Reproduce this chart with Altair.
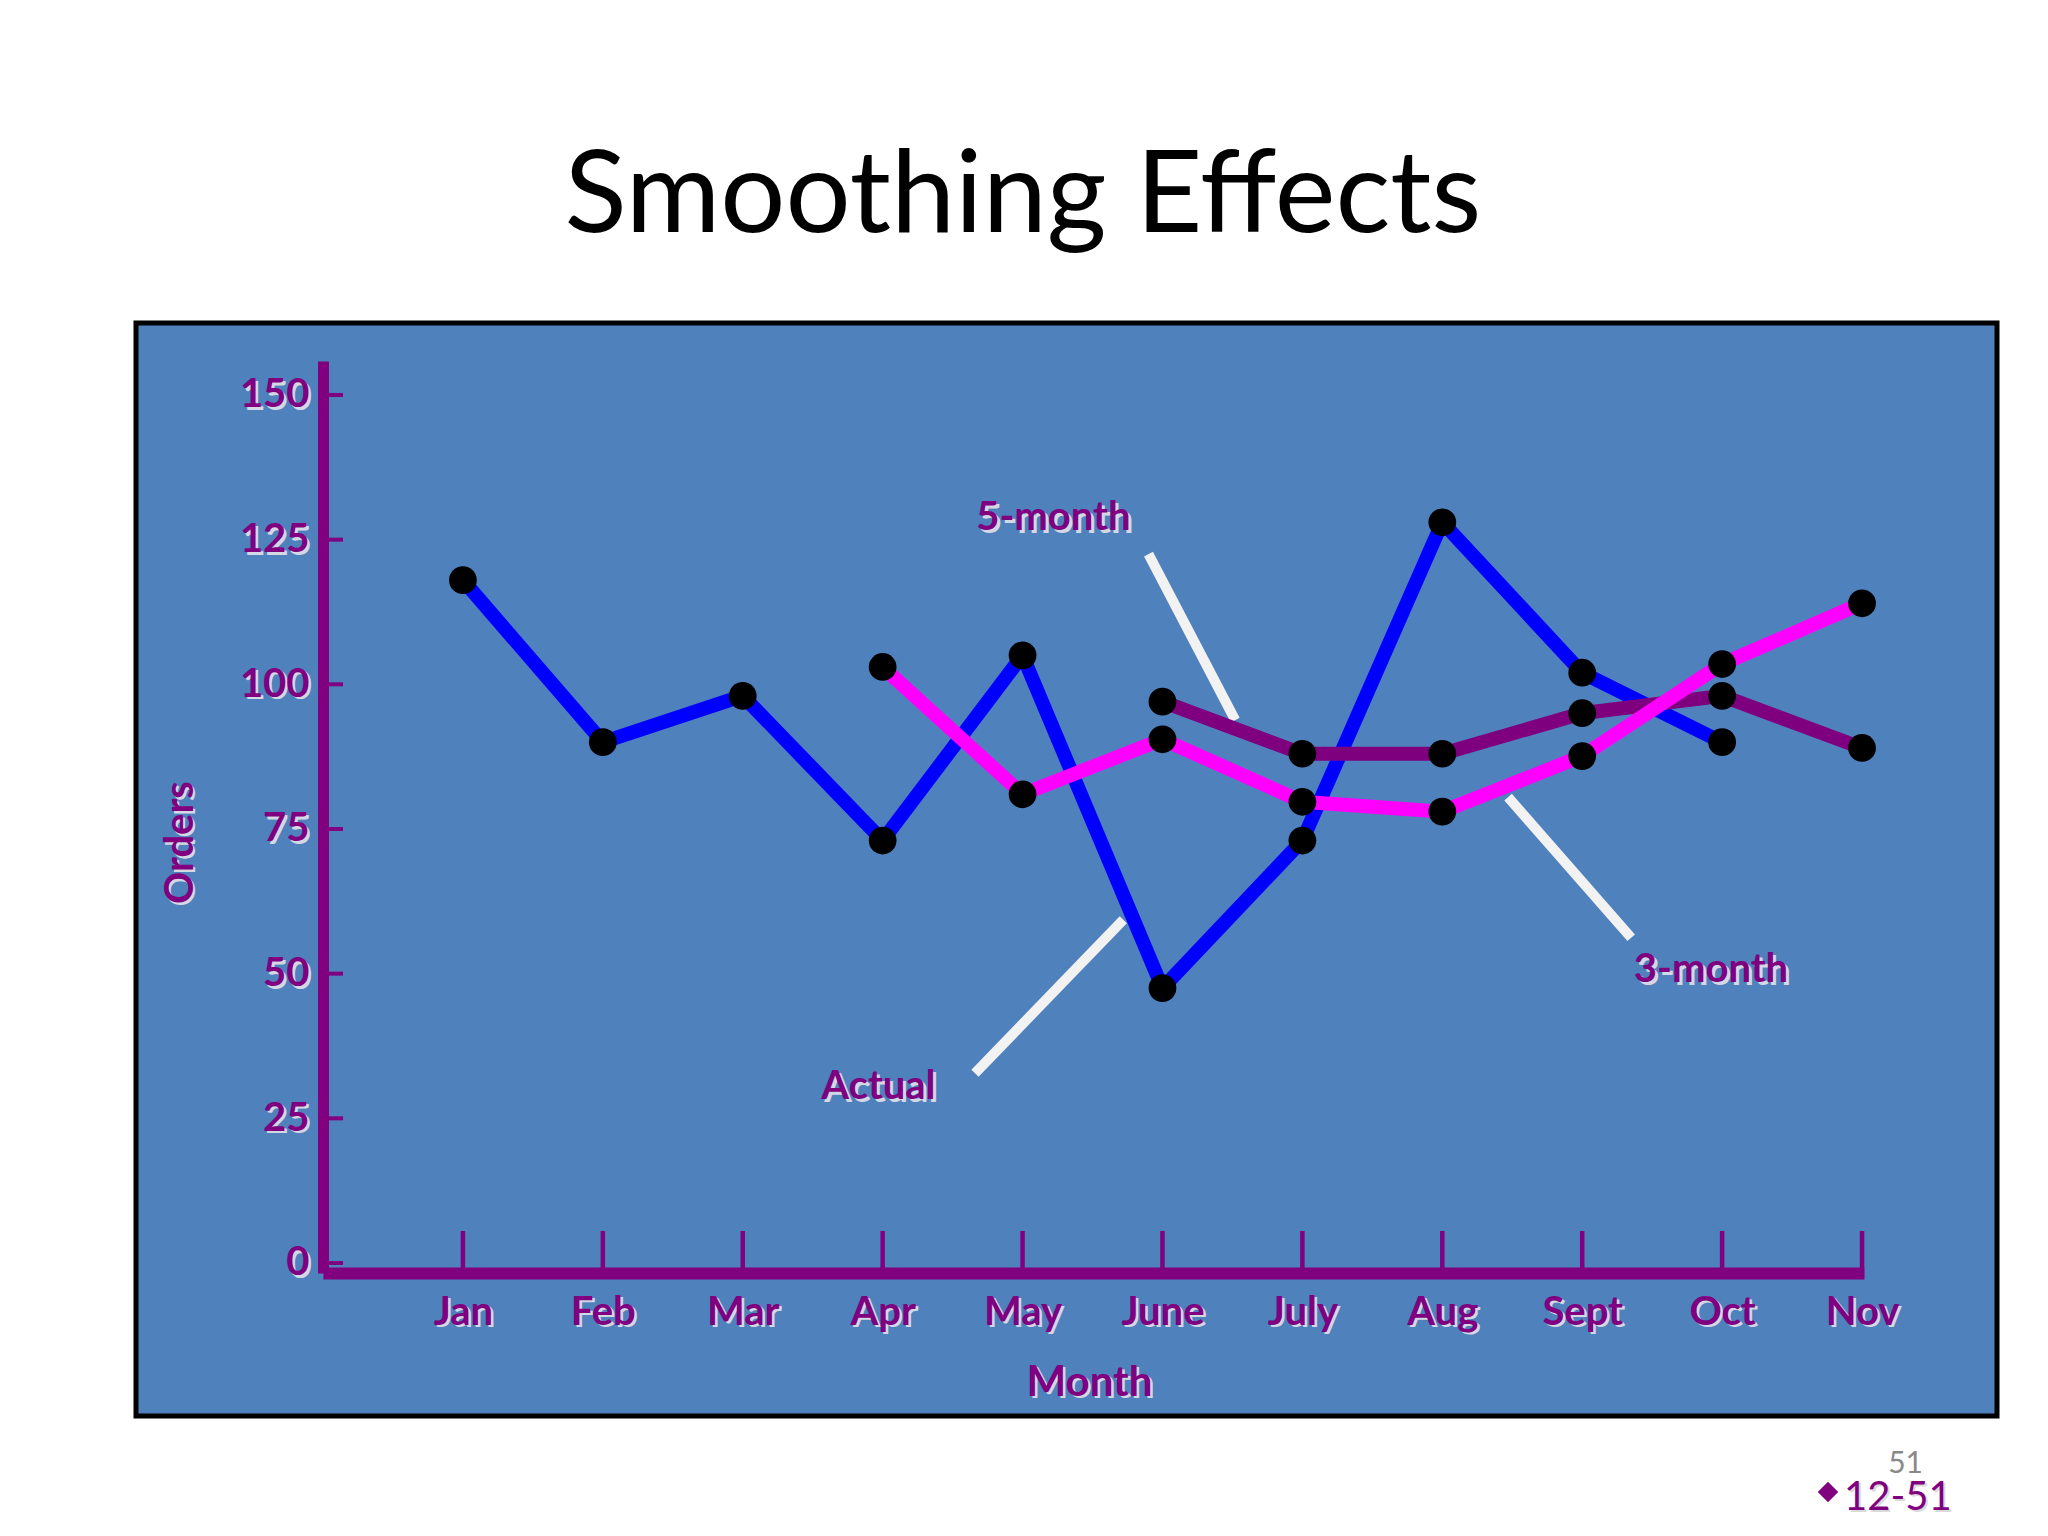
import json
import altair as alt
import pandas as pd

# ---------------- data ----------------
months = ["Jan", "Feb", "Mar", "Apr", "May", "June", "July", "Aug", "Sept", "Oct", "Nov"]

actual_months = months[:10]
actual = [118, 90, 98, 73, 105, 47.5, 73, 128, 102, 90]

three_months = months[3:]
three_month = [103, 81, 90.5, 79.7, 78, 87.6, 103.5, 114]

five_months = months[5:]
five_month = [97, 88, 88, 95, 98, 89]

y_tick_values = [0, 25, 50, 75, 100, 125, 150]

# annotation labels and pointer lines (in data coordinates: month index, orders)
note_text = ["5-month", "Actual", "3-month"]
note_x = [4.22, 2.97, 8.92]
note_y = [128.7, 30.4, 50.6]
pointer_x = [4.90, 3.66, 7.47]
pointer_y = [122.5, 32.8, 80.5]
pointer_x2 = [5.52, 4.72, 8.35]
pointer_y2 = [93.8, 59.3, 56.2]

title_text = "Smoothing Effects"
x_title = "Month"
y_title = "Orders"

# ---------------- tables ----------------
def series_df(name, ms, vals):
    return pd.DataFrame({"series": name, "month": ms,
                         "idx": [months.index(m) for m in ms], "value": vals})

df_actual = series_df("Actual", actual_months, actual)
df_three = series_df("3-month", three_months, three_month)
df_five = series_df("5-month", five_months, five_month)
df_all = pd.concat([df_actual, df_five, df_three], ignore_index=True)

df_xticks = pd.DataFrame({"idx": list(range(len(months))), "label": months})
df_yticks = pd.DataFrame({"value": y_tick_values,
                          "label": [str(v) for v in y_tick_values]})
df_notes = pd.DataFrame({"text": note_text, "idx": note_x, "value": note_y})
df_ptr = pd.DataFrame({"idx": pointer_x, "value": pointer_y,
                       "idx2": pointer_x2, "value2": pointer_y2})
df_one = pd.DataFrame({"k": [0]})

# ---------------- style ----------------
W, H = 1541, 912
PURPLE = "#800080"
LINE_PURPLE = "#7F007F"
BG = "#4F81BD"
SHADOW = "#D4D8E4"
FONT = "Lato"
LBL = 40

label_expr = json.dumps(months) + "[datum.value]"

x_axis = alt.Axis(
    values=list(range(len(months))), labelExpr=label_expr,
    domain=True, domainColor=PURPLE, domainWidth=12,
    ticks=False, tickSize=0, grid=False,
    labelFont=FONT, labelFontSize=LBL, labelFontWeight="bold", labelColor=PURPLE,
    labelPadding=19, labelBaseline="top", labelFlush=False, labelOverlap=False,
    title=x_title, titleFont=FONT, titleFontSize=42, titleFontWeight="bold",
    titleColor=PURPLE, titleX=766, titleY=122, titleBaseline="alphabetic",
    titleAlign="center", zindex=1,
)
y_axis = alt.Axis(
    values=y_tick_values,
    domain=True, domainColor=PURPLE, domainWidth=11,
    ticks=False, tickSize=0, grid=False,
    labelFont=FONT, labelFontSize=LBL, labelFontWeight="bold", labelColor=PURPLE,
    labelPadding=14, labelFlush=False, labelOverlap=False,
    title=y_title, titleFont=FONT, titleFontSize=40, titleFontWeight="bold",
    titleColor=PURPLE, titleX=-143, titleY=481, titleAlign="center",
    titleBaseline="middle", titleAngle=270, zindex=1,
)

xs = alt.Scale(domain=[-1.0, 10.014], nice=False, zero=False)
ys = alt.Scale(domain=[-1.73, 155.87], nice=False, zero=False)

X = alt.X("idx:Q", scale=xs, axis=x_axis)
Y = alt.Y("value:Q", scale=ys, axis=y_axis)

# ---------------- layers ----------------
frame = alt.Chart(df_one).mark_rect(fill=BG, stroke="black", strokeWidth=5).encode(
    x=alt.value(-187), x2=alt.value(1674), y=alt.value(-38), y2=alt.value(1055)
)

title = alt.Chart(df_one).mark_text(
    text=title_text, font=FONT, fontSize=115, color="black",
    align="center", baseline="alphabetic"
).encode(x=alt.value(700), y=alt.value(-129))

# soft shadows under the axis texts (drawn below the axes)
xlab_shadow = alt.Chart(df_xticks).mark_text(
    font=FONT, fontSize=LBL, fontWeight="bold", color=SHADOW,
    align="center", baseline="top", dx=3, dy=3
).encode(x=X, y=alt.value(H + 19), text="label:N")
ylab_shadow = alt.Chart(df_yticks).mark_text(
    font=FONT, fontSize=LBL, fontWeight="bold", color=SHADOW,
    align="right", baseline="middle", dx=3, dy=3
).encode(y=Y, x=alt.value(-14), text="label:N")
xtitle_shadow = alt.Chart(df_one).mark_text(
    text=x_title, font=FONT, fontSize=42, fontWeight="bold", color=SHADOW,
    align="center", baseline="alphabetic", dx=3, dy=3
).encode(x=alt.value(766), y=alt.value(H + 122))
ytitle_shadow = alt.Chart(df_one).mark_text(
    text=y_title, font=FONT, fontSize=40, fontWeight="bold", color=SHADOW,
    align="center", baseline="middle", angle=270, dx=-3, dy=3
).encode(x=alt.value(-143), y=alt.value(481))

xticks = alt.Chart(df_xticks).mark_rule(color=PURPLE, strokeWidth=4.5).encode(
    x=X, y=alt.value(H - 42), y2=alt.value(H - 5)
)
yticks = alt.Chart(df_yticks).mark_rule(color=PURPLE, strokeWidth=4).encode(
    y=Y, x=alt.value(4), x2=alt.value(20)
)

pointers = alt.Chart(df_ptr).mark_rule(color="#F2F2F2", strokeWidth=10).encode(
    x=X, y=Y, x2="idx2:Q", y2="value2:Q"
)

def line(df, color):
    return alt.Chart(df).mark_line(color=color, strokeWidth=14).encode(
        x=X, y=Y, order="idx:Q"
    )

line_actual = line(df_actual, "#0000FF")
line_five = line(df_five, LINE_PURPLE)
line_three = line(df_three, "#FF00FF")

dots = alt.Chart(df_all).mark_circle(color="black", size=770, opacity=1).encode(
    x=X, y=Y
)

note_shadow = alt.Chart(df_notes).mark_text(
    font=FONT, fontSize=40, fontWeight="bold", color=SHADOW,
    dx=3, dy=3, align="center", baseline="middle"
).encode(x=X, y=Y, text="text:N")
notes = alt.Chart(df_notes).mark_text(
    font=FONT, fontSize=40, fontWeight="bold", color=PURPLE,
    align="center", baseline="middle"
).encode(x=X, y=Y, text="text:N")

page_no = alt.Chart(df_one).mark_text(
    text="51", font=FONT, fontSize=30, color="#898989", align="right",
    baseline="alphabetic"
).encode(x=alt.value(1600), y=alt.value(1112))
slide_shadow = alt.Chart(df_one).mark_text(
    text="12-51", font=FONT, fontSize=40, color="#DADADA", align="left",
    baseline="alphabetic", dx=2, dy=2
).encode(x=alt.value(1521), y=alt.value(1149))
slide_no = alt.Chart(df_one).mark_text(
    text="12-51", font=FONT, fontSize=40, color=PURPLE, align="left",
    baseline="alphabetic"
).encode(x=alt.value(1521), y=alt.value(1149))
diamond = alt.Chart(df_one).mark_point(
    shape="diamond", filled=True, color=PURPLE, size=420, opacity=1
).encode(x=alt.value(1505), y=alt.value(1131))

chart = alt.layer(
    frame, title, xlab_shadow, ylab_shadow, xtitle_shadow, ytitle_shadow,
    xticks, yticks, pointers,
    line_actual, line_five, line_three, dots,
    note_shadow, notes, page_no, slide_shadow, slide_no, diamond,
).properties(
    width=W, height=H,
    autosize=alt.AutoSizeParams(type="none"),
    padding={"left": 315, "top": 353, "right": 170, "bottom": 252},
).configure(background="white").configure_view(stroke=None)

chart.save("out.html", embed_options={"renderer": "svg", "actions": False})
